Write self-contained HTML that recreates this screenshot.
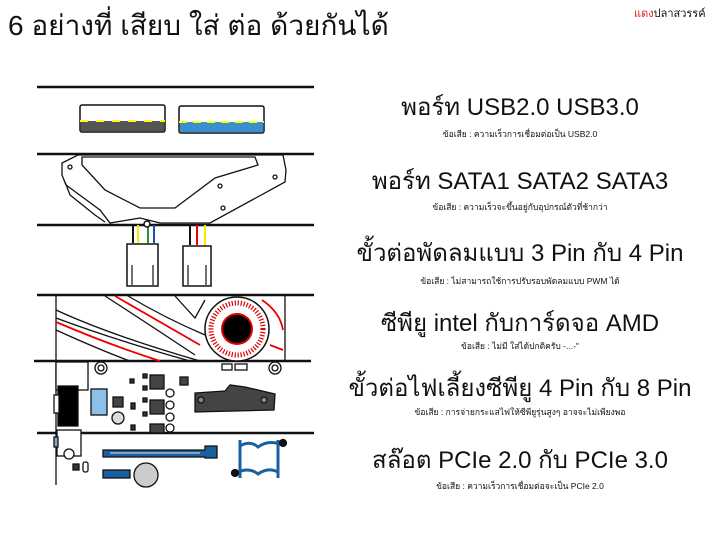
<!DOCTYPE html>
<html><head><meta charset="utf-8">
<style>
html,body{margin:0;padding:0;background:#fff;}
#c{position:relative;width:720px;height:540px;overflow:hidden;font-family:"Liberation Sans","DejaVu Sans",sans-serif;color:#111;}
.t{position:absolute;white-space:nowrap;}
.h{left:340px;width:360px;text-align:center;font-size:24px;line-height:28px;}
.s{left:340px;width:360px;text-align:center;font-size:8.5px;line-height:10px;}
svg{position:absolute;left:0;top:0;}
</style></head><body><div id="c">
<svg width="720" height="540" viewBox="0 0 720 540">
<g stroke="#111" stroke-width="2.5">
<line x1="37" y1="87" x2="314" y2="87"/>
<line x1="37" y1="154" x2="314" y2="154"/>
<line x1="37" y1="225" x2="314" y2="225"/>
<line x1="37" y1="295" x2="314" y2="295"/>
<line x1="34" y1="361" x2="311" y2="361"/>
<line x1="37" y1="433" x2="314" y2="433"/>
</g>
<!-- USB -->
<g stroke="#111" stroke-width="1.5">
<rect x="80" y="105" width="85" height="27" rx="2" fill="#fff"/>
<rect x="80.7" y="121" width="83.6" height="10.3" fill="#555" stroke="none"/>
<line x1="80" y1="121" x2="165" y2="121" stroke="#ff0" stroke-dasharray="8,8" stroke-width="2"/>
<rect x="179" y="106" width="85" height="27" rx="2" fill="#fff"/>
<rect x="179.7" y="122" width="83.6" height="10.3" fill="#3a8fcc" stroke="none"/>
<line x1="179" y1="122" x2="264" y2="122" stroke="#ff0" stroke-dasharray="8,6" stroke-width="2"/>
</g>
<!-- HDD -->
<g fill="none" stroke="#111" stroke-width="1.3">
<path d="M62,163 L78,155 L283,155 L286,170 L285,182 L210,223 L160,223 L140,218 L110,223 L100,210 L66,185 L62,175 Z" fill="#fff"/>
<path d="M82,157 L255,157 L258,165 L215,178 L175,208 L140,208 L105,190 L82,165 Z"/>
<circle cx="70" cy="167" r="2"/><circle cx="275" cy="177" r="2"/><circle cx="220" cy="186" r="2"/><circle cx="223" cy="208" r="2"/>
<path d="M65,182 L70,195 L95,215 L105,222"/>
</g>
<!-- fan connectors -->
<g stroke-width="2">
<line x1="133" y1="225" x2="133" y2="243" stroke="#111"/><line x1="138" y1="225" x2="138" y2="243" stroke="#ee0"/><line x1="148" y1="225" x2="148" y2="243" stroke="#1a9a2a"/><line x1="154" y1="225" x2="154" y2="243" stroke="#1a4fb0"/>
<line x1="190" y1="225" x2="190" y2="245" stroke="#111"/><line x1="197" y1="225" x2="197" y2="245" stroke="#e00"/><line x1="205" y1="225" x2="205" y2="245" stroke="#ee0"/>
</g>
<g fill="#fff" stroke="#111" stroke-width="1.5">
<rect x="127" y="244" width="31" height="42"/><rect x="183" y="246" width="28" height="40"/>
<circle cx="147" cy="224" r="3"/>
</g>
<g stroke="#111" stroke-width="1.2"><line x1="132" y1="265" x2="132" y2="285"/><line x1="153" y1="265" x2="153" y2="285"/><line x1="188" y1="265" x2="188" y2="285"/><line x1="206" y1="265" x2="206" y2="285"/></g>
<!-- GPU -->
<g fill="none" stroke-width="1.3">
<line x1="56" y1="296" x2="56" y2="361" stroke="#111"/>
<line x1="285" y1="296" x2="285" y2="361" stroke="#111"/>
<path d="M56,310 Q110,335 200,361" stroke="#111"/>
<path d="M56,322 Q110,345 160,361" stroke="#e00" stroke-width="1.8"/>
<path d="M56,330 Q100,350 130,361" stroke="#111"/>
<path d="M56,318 Q115,340 190,361" stroke="#111"/>
<path d="M105,296 Q150,325 195,355" stroke="#111"/>
<path d="M115,296 Q160,322 200,345" stroke="#e00" stroke-width="1.8"/>
<path d="M128,296 Q165,318 205,335" stroke="#111"/>
<path d="M175,296 L195,318 L205,300" stroke="#111"/>
<path d="M262,300 Q280,312 283,330" stroke="#e00" stroke-width="1.8"/>
<path d="M270,345 L283,350" stroke="#e00" stroke-width="1.8"/>
</g>
<circle cx="237" cy="329" r="32" fill="#fff" stroke="#111" stroke-width="1.5"/>
<circle cx="237" cy="329" r="26" fill="none" stroke="#d00" stroke-width="5" stroke-dasharray="1.2,1.8"/>
<circle cx="237" cy="329" r="16" fill="#d00"/>
<circle cx="237" cy="329" r="14" fill="#000"/>
<!-- MB -->
<g stroke="#111" stroke-width="1.3">
<line x1="56" y1="361" x2="56" y2="485"/>
<rect x="56" y="362" width="32" height="28" fill="#fff"/>
<rect x="58" y="386" width="20" height="40" fill="#000"/>
<rect x="54" y="395" width="5" height="18" fill="#fff"/>
<rect x="57" y="430" width="24" height="26" fill="#fff"/>
<rect x="54" y="437" width="4" height="10" fill="#8ab"/>
<circle cx="101" cy="368" r="6" fill="#fff"/><circle cx="101" cy="368" r="3" fill="#fff"/>
<circle cx="275" cy="368" r="6" fill="#fff"/><circle cx="275" cy="368" r="3" fill="#fff"/>
<rect x="222" y="364" width="10" height="6" fill="#fff"/><rect x="235" y="364" width="12" height="6" fill="#fff"/>
<rect x="91" y="389" width="16" height="26" fill="#8bc0e8"/>
<rect x="113" y="397" width="10" height="10" fill="#444"/>
<rect x="130" y="379" width="4" height="4" fill="#333"/>
<rect x="150" y="375" width="14" height="14" fill="#444"/><rect x="150" y="400" width="14" height="14" fill="#444"/><rect x="150" y="424" width="14" height="9" fill="#444"/>
<rect x="143" y="374" width="4" height="4" fill="#333"/><rect x="143" y="386" width="4" height="4" fill="#333"/><rect x="143" y="398" width="4" height="4" fill="#333"/><rect x="143" y="412" width="4" height="4" fill="#333"/><rect x="131" y="403" width="4" height="6" fill="#333"/><rect x="131" y="425" width="4" height="5" fill="#333"/>
<rect x="180" y="377" width="8" height="8" fill="#444"/>
<circle cx="170" cy="393" r="4" fill="#fff"/><circle cx="170" cy="405" r="4" fill="#fff"/><circle cx="170" cy="417" r="4" fill="#fff"/><circle cx="170" cy="428" r="4" fill="#fff"/>
<circle cx="118" cy="418" r="6" fill="#ddd"/>
<path d="M195,393 L225,391 L230,385 L245,387 L258,390 L275,394 L274,410 L195,412 Z" fill="#444"/>
<circle cx="201" cy="400" r="3" fill="#888"/><circle cx="264" cy="400" r="3" fill="#888"/>
<circle cx="69" cy="454" r="5" fill="#fff"/>
<rect x="73" y="464" width="6" height="6" fill="#333"/><rect x="83" y="462" width="5" height="10" rx="2" fill="#fff"/>
<path d="M103,450 L205,450 L205,446 L217,446 L217,458 L205,458 L205,457 L103,457 Z" fill="#1a5fa0"/>
<line x1="110" y1="453" x2="200" y2="453" stroke="#ccc"/>
<rect x="103" y="470" width="27" height="8" fill="#1a5fa0"/>
<circle cx="146" cy="475" r="12" fill="#ccc"/>
<g fill="none" stroke="#1a5fa0" stroke-width="3"><line x1="240" y1="440" x2="240" y2="478"/><line x1="278" y1="440" x2="278" y2="478"/><path d="M240,446 Q250,440 258,447 Q268,440 280,444"/><path d="M234,474 Q248,466 258,474 Q268,467 278,472"/></g>
<circle cx="283" cy="443" r="3.5" fill="#111"/><circle cx="235" cy="473" r="3.5" fill="#111"/>
</g>
</svg>
<div class="t" style="left:8px;top:8px;font-size:28px;line-height:36px;">6 อย่างที่ เสียบ ใส่ ต่อ ด้วยกันได้</div>
<div class="t" style="left:634px;top:4px;font-size:11px;"><span style="color:#e02020">แดง</span>ปลาสวรรค์</div>
<div class="t h" style="top:94px;">พอร์ท USB2.0 USB3.0</div>
<div class="t s" style="top:129px;">ข้อเสีย : ความเร็วการเชื่อมต่อเป็น USB2.0</div>
<div class="t h" style="top:168px;">พอร์ท SATA1 SATA2 SATA3</div>
<div class="t s" style="top:202px;">ข้อเสีย : ความเร็วจะขึ้นอยู่กับอุปกรณ์ตัวที่ช้ากว่า</div>
<div class="t h" style="top:240px;">ขั้วต่อพัดลมแบบ 3 Pin กับ 4 Pin</div>
<div class="t s" style="top:276px;">ข้อเสีย : ไม่สามารถใช้การปรับรอบพัดลมแบบ PWM ได้</div>
<div class="t h" style="top:310px;">ซีพียู intel กับการ์ดจอ AMD</div>
<div class="t s" style="top:341px;">ข้อเสีย : ไม่มี ใส่ได้ปกติครับ -...-"</div>
<div class="t h" style="top:375px;">ขั้วต่อไฟเลี้ยงซีพียู 4 Pin กับ 8 Pin</div>
<div class="t s" style="top:407px;">ข้อเสีย : การจ่ายกระแสไฟให้ซีพียูรุ่นสูงๆ อาจจะไม่เพียงพอ</div>
<div class="t h" style="top:447px;">สล๊อต PCIe 2.0 กับ PCIe 3.0</div>
<div class="t s" style="top:481px;">ข้อเสีย : ความเร็วการเชื่อมต่อจะเป็น PCIe 2.0</div>
</div></body></html>
